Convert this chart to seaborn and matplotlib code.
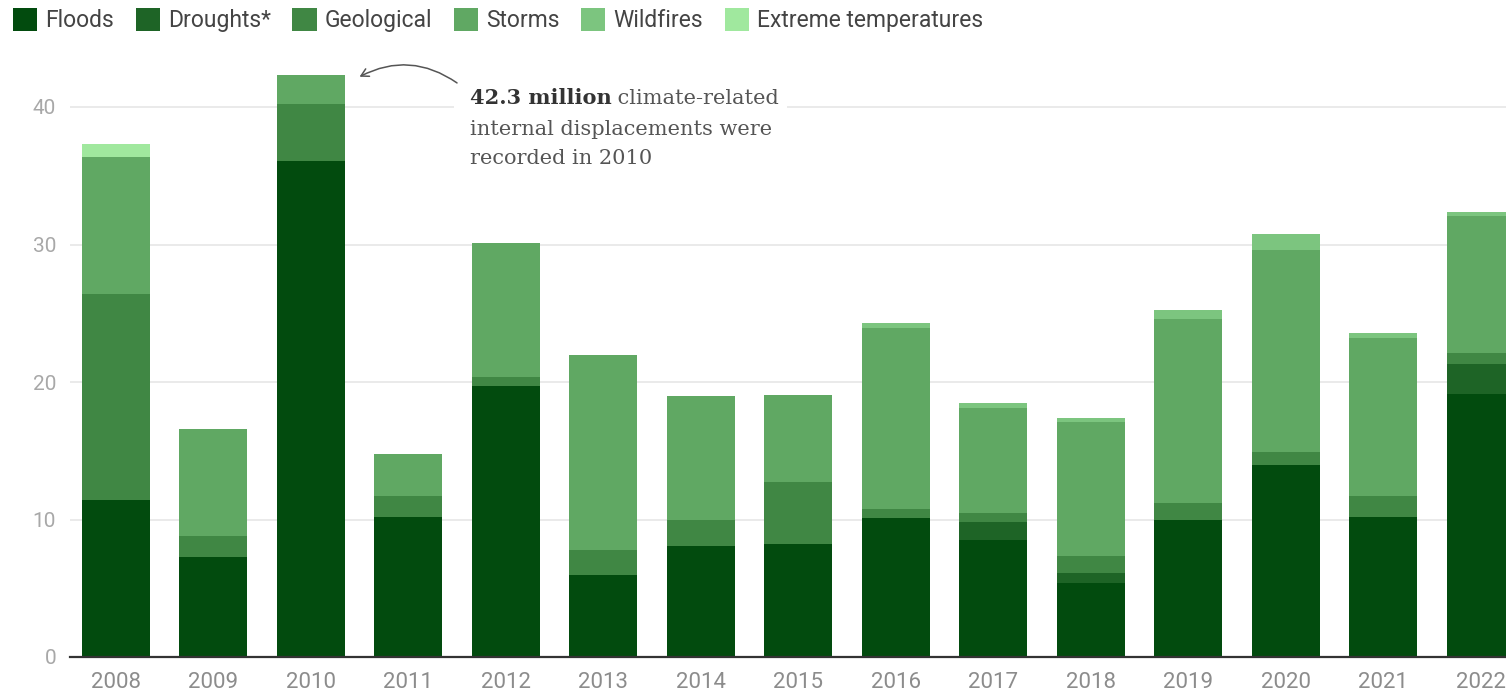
import numpy as np
import pandas as pd
import matplotlib
matplotlib.use("Agg")
import matplotlib.pyplot as plt
from matplotlib.patches import Patch
import seaborn as sns

# Climate-related internal displacements (millions) by hazard type
years = [str(y) for y in range(2008, 2023)]
floods = [11.4, 7.3, 36.1, 10.2, 19.7, 6.0, 8.1, 8.2, 10.1, 8.5, 5.4, 10.0, 14.0, 10.2, 19.1]
droughts = [0, 0, 0, 0, 0, 0, 0, 0, 0, 1.3, 0.7, 0, 0, 0, 2.2]
geological = [15.0, 1.5, 4.1, 1.5, 0.7, 1.8, 1.9, 4.5, 0.7, 0.7, 1.25, 1.2, 0.9, 1.5, 0.8]
storms = [10.0, 7.8, 2.1, 3.1, 9.7, 14.2, 9.0, 6.35, 13.1, 7.6, 9.75, 13.4, 14.7, 11.5, 10.0]
wildfires = [0, 0, 0, 0, 0, 0, 0, 0, 0.4, 0.4, 0.3, 0.6, 1.2, 0.4, 0.3]
extreme_temps = [0.9, 0, 0, 0, 0, 0, 0, 0, 0, 0, 0, 0, 0, 0, 0]

series_names = ["Floods", "Droughts*", "Geological", "Storms", "Wildfires",
                "Extreme temperatures"]
series_values = [floods, droughts, geological, storms, wildfires, extreme_temps]
series_colors = ["#024b0e", "#1e6426", "#408744", "#60a863", "#7cc57f", "#a0e89e"]

y_ticks = [0, 10, 20, 30, 40]

sns.set_theme(style="white")
plt.rcParams["font.family"] = ["Roboto", "DejaVu Sans"]

fig = plt.figure(figsize=(15.06, 6.95), dpi=100)
ax = fig.add_axes([70 / 1506, 38 / 695, 1436 / 1506, 605 / 695])

# Stacked bars: draw cumulative totals from the top series down
df = pd.DataFrame({"year": years})
cum = np.zeros(len(years))
cumulative = []
for vals in series_values:
    cum = cum + np.array(vals, dtype=float)
    cumulative.append(cum.copy())

for name, color, tops in reversed(list(zip(series_names, series_colors, cumulative))):
    d = df.assign(total=tops)
    sns.barplot(data=d, x="year", y="total", color=color, saturation=1,
                width=0.7, linewidth=0, edgecolor="none", errorbar=None, ax=ax,
                zorder=2)

ax.set_xlim(-0.47, 14.26)
ax.set_ylim(0, 44)
ax.set_yticks(y_ticks)
ax.set_xlabel("")
ax.set_ylabel("")
ax.yaxis.grid(True, color="#e8e8e8", linewidth=1.3, zorder=0)
ax.xaxis.grid(False)
ax.set_axisbelow(True)
for side in ["top", "right", "left"]:
    ax.spines[side].set_visible(False)
ax.spines["bottom"].set_color("#333333")
ax.spines["bottom"].set_linewidth(1.6)
ax.spines["bottom"].set_zorder(3)
ax.tick_params(axis="y", length=0, pad=10, labelsize=15, labelcolor="#a8a8a8")
ax.tick_params(axis="x", length=0, pad=11, labelsize=16, labelcolor="#8c8c8c")

# Annotation for the 2010 peak
total_2010 = cumulative[-1][2]
tx, ty = 3.63, 40.2
serif = ["DejaVu Serif"]
# middle line carries a white box that breaks the gridline behind the note
ax.annotate("internal displacements were", xy=(tx, ty), xytext=(0, -22),
            textcoords="offset points", fontsize=15, family=serif,
            color="#555555", va="baseline", ha="left", zorder=5,
            bbox=dict(facecolor="white", edgecolor="none", pad=11))
bold = ax.text(tx, ty, f"{total_2010:.1f} million", fontsize=15, family=serif,
               fontweight="bold", color="#333333", va="baseline", ha="left", zorder=6)
ax.annotate(" climate-related", xy=(1, 0), xycoords=bold, fontsize=15,
            family=serif, color="#555555", va="bottom", ha="left", zorder=6)
ax.annotate("recorded in 2010", xy=(tx, ty), xytext=(0, -43),
            textcoords="offset points", fontsize=15, family=serif,
            color="#555555", va="baseline", ha="left", zorder=6)

ax.annotate("", xy=(2.5, 42.2), xytext=(3.5, 41.75),
            arrowprops=dict(arrowstyle="->,head_length=0.45,head_width=0.25",
                            color="#555555", lw=1.1, shrinkA=0, shrinkB=0,
                            connectionstyle="arc3,rad=0.3"),
            annotation_clip=False, zorder=6)

handles = [Patch(facecolor=c, edgecolor="none") for c in series_colors]
fig.legend(handles, series_names, loc="upper left",
           bbox_to_anchor=(13 / 1506, 1 - 8 / 695), ncol=6, frameon=False,
           fontsize=16.5, handlelength=1.05, handleheight=1.15,
           handletextpad=0.35, columnspacing=0.95, borderaxespad=0,
           borderpad=0, labelcolor="#444444")

fig.savefig("out.png", dpi=100)
